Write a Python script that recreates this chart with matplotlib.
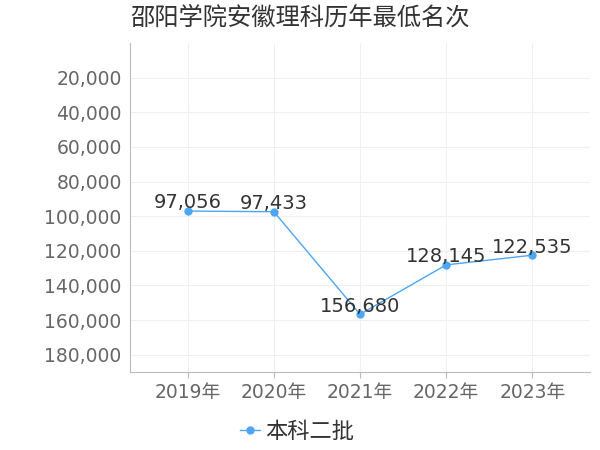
import matplotlib
matplotlib.use('Agg')
import matplotlib.pyplot as plt
from matplotlib.ticker import FuncFormatter

plt.rcParams['font.family'] = ['DejaVu Sans', 'Noto Sans CJK SC']

# data
years = ['2019年', '2020年', '2021年', '2022年', '2023年']
ranks = [97056, 97433, 156680, 128145, 122535]
series_name = '本科二批'
title = '邵阳学院安徽理科历年最低名次'
yticks = [20000, 40000, 60000, 80000, 100000, 120000, 140000, 160000, 180000]

line_color = '#4da6f5'

fig = plt.figure(figsize=(6, 4.5), dpi=100)
ax = fig.add_axes([130/600, 78/450, 460/600, 329/450])

x = range(len(years))
ax.plot(x, ranks, color=line_color, lw=1, marker='o', ms=5, label=series_name)
for i, v in enumerate(ranks):
    ax.annotate(f'{v:,}', (i, v), xytext=(0, -1), textcoords='offset points',
                ha='center', va='bottom', fontsize=14, color='#333333')

ax.set_xlim(-0.67, 4.67)
ax.set_ylim(190000, 0)
ax.set_yticks(yticks)
ax.yaxis.set_major_formatter(FuncFormatter(lambda v, p: f'{int(v):,}'))
ax.set_xticks(list(x))
ax.set_xticklabels(years)
ax.tick_params(axis='y', length=0, labelsize=13.5, labelcolor='#666666', pad=6)
ax.tick_params(axis='x', length=4, color='#bbbbbb', labelsize=13.5, labelcolor='#666666', pad=4)
ax.grid(True, color='#f0f0f0', lw=0.8)
ax.set_axisbelow(True)
for s in ['top', 'right']:
    ax.spines[s].set_visible(False)
for s in ['left', 'bottom']:
    ax.spines[s].set_color('#bbbbbb')

fig.text(130/600, 1 - 18/450, title, fontsize=17.5, color='#333333', ha='left', va='center')
fig.legend(loc='center', bbox_to_anchor=(297/600, 1 - 432/450), frameon=False,
           fontsize=16, labelcolor='#333333', handlelength=0.9, handletextpad=0.25)

fig.savefig('out.png', dpi=100)
